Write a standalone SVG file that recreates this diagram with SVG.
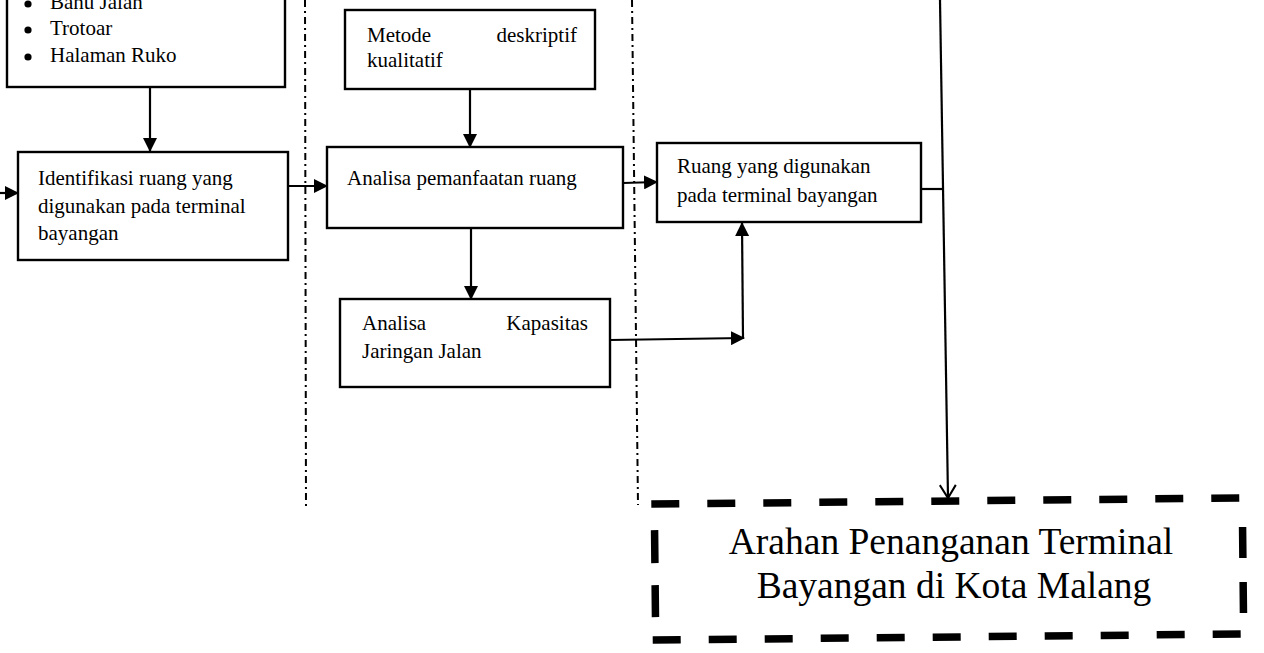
<svg xmlns="http://www.w3.org/2000/svg" width="1264" height="653" viewBox="0 0 1264 653">
<style>
.box{fill:#fff;stroke:#000;stroke-width:2.4}
.t{font-family:"Liberation Serif","Times New Roman",serif;font-size:21px;fill:#000}
.big{font-family:"Liberation Serif","Times New Roman",serif;font-size:37.5px;fill:#000;text-anchor:middle}
.c{fill:none;stroke:#000;stroke-width:2.2}
.sep{fill:none;stroke:#000;stroke-width:2;stroke-dasharray:7 4 2 4}
.dash{fill:none;stroke:#000;stroke-width:7.5}
.bul{fill:#000}
</style>
<defs>
<marker id="ah" markerUnits="userSpaceOnUse" markerWidth="14" markerHeight="14" refX="13" refY="7" orient="auto">
<path d="M0,0 L14,7 L0,14 z" fill="#000"/>
</marker>
<marker id="open" markerUnits="userSpaceOnUse" markerWidth="16" markerHeight="18" refX="14" refY="9" orient="auto">
<path d="M1,1 L14,9 L1,17" fill="none" stroke="#000" stroke-width="2"/>
</marker>
</defs>
<g id="separators">
<line class="sep" x1="305" y1="0" x2="306" y2="510"/>
<line class="sep" x1="632" y1="0" x2="638" y2="505"/>
</g>
<g id="n-lokasi">
<rect class="box" x="7" y="-10" width="278" height="97"/>
<circle class="bul" cx="28" cy="4" r="3.6"/>
<circle class="bul" cx="28" cy="30" r="3.6"/>
<circle class="bul" cx="28" cy="57" r="3.6"/>
<text class="t" x="50" y="9">Bahu Jalan</text>
<text class="t" x="50" y="35">Trotoar</text>
<text class="t" x="50" y="62">Halaman Ruko</text>
</g>
<g id="n-identifikasi">
<rect class="box" x="18" y="152" width="270" height="108"/>
<text class="t"><tspan x="38" y="185">Identifikasi ruang yang</tspan><tspan x="38" y="213">digunakan  pada terminal</tspan><tspan x="38" y="240">bayangan</tspan></text>
</g>
<g id="n-metode">
<rect class="box" x="345" y="10" width="250" height="79"/>
<text class="t"><tspan x="367" y="42">Metode</tspan><tspan x="577" y="42" text-anchor="end">deskriptif</tspan><tspan x="367" y="67">kualitatif</tspan></text>
</g>
<g id="n-pemanfaatan">
<rect class="box" x="327" y="147" width="296" height="81"/>
<text class="t" x="347" y="185">Analisa pemanfaatan ruang</text>
</g>
<g id="n-kapasitas">
<rect class="box" x="340" y="299" width="270" height="88"/>
<text class="t"><tspan x="362" y="330">Analisa</tspan><tspan x="588" y="330" text-anchor="end">Kapasitas</tspan><tspan x="362" y="358">Jaringan Jalan</tspan></text>
</g>
<g id="n-ruang">
<rect class="box" x="657" y="143" width="264" height="79"/>
<text class="t"><tspan x="677" y="173">Ruang yang digunakan</tspan><tspan x="677" y="202">pada terminal bayangan</tspan></text>
</g>
<g id="n-arahan">
<g transform="rotate(-0.6 950 570)">
<line class="dash" x1="652" y1="501" x2="1246" y2="501" stroke-dasharray="28 28"/>
<line class="dash" x1="652" y1="637" x2="1246" y2="637" stroke-dasharray="28 28"/>
<line class="dash" x1="655" y1="527" x2="655" y2="614" stroke-dasharray="33 22"/>
<line class="dash" x1="1243" y1="530" x2="1243" y2="616" stroke-dasharray="31 24"/>
</g>
<text class="big" x="951" y="554">Arahan Penanganan Terminal</text>
<text class="big" x="954" y="598">Bayangan di Kota Malang</text>
</g>
<g id="connectors">
<line class="c" x1="150" y1="87" x2="150" y2="151" marker-end="url(#ah)"/>
<line class="c" x1="0" y1="193" x2="18" y2="193" marker-end="url(#ah)"/>
<line class="c" x1="288" y1="186" x2="327" y2="186" marker-end="url(#ah)"/>
<line class="c" x1="470" y1="89" x2="470" y2="147" marker-end="url(#ah)"/>
<line class="c" x1="623" y1="183" x2="657" y2="182" marker-end="url(#ah)"/>
<line class="c" x1="471" y1="228" x2="471" y2="299" marker-end="url(#ah)"/>
<line class="c" x1="610" y1="340" x2="744" y2="338" marker-end="url(#ah)"/>
<line class="c" x1="743" y1="339" x2="742" y2="223" marker-end="url(#ah)"/>
<line class="c" x1="921" y1="189" x2="943" y2="189"/>
<line class="c" x1="940" y1="0" x2="948" y2="498" marker-end="url(#open)"/>
</g>
</svg>
